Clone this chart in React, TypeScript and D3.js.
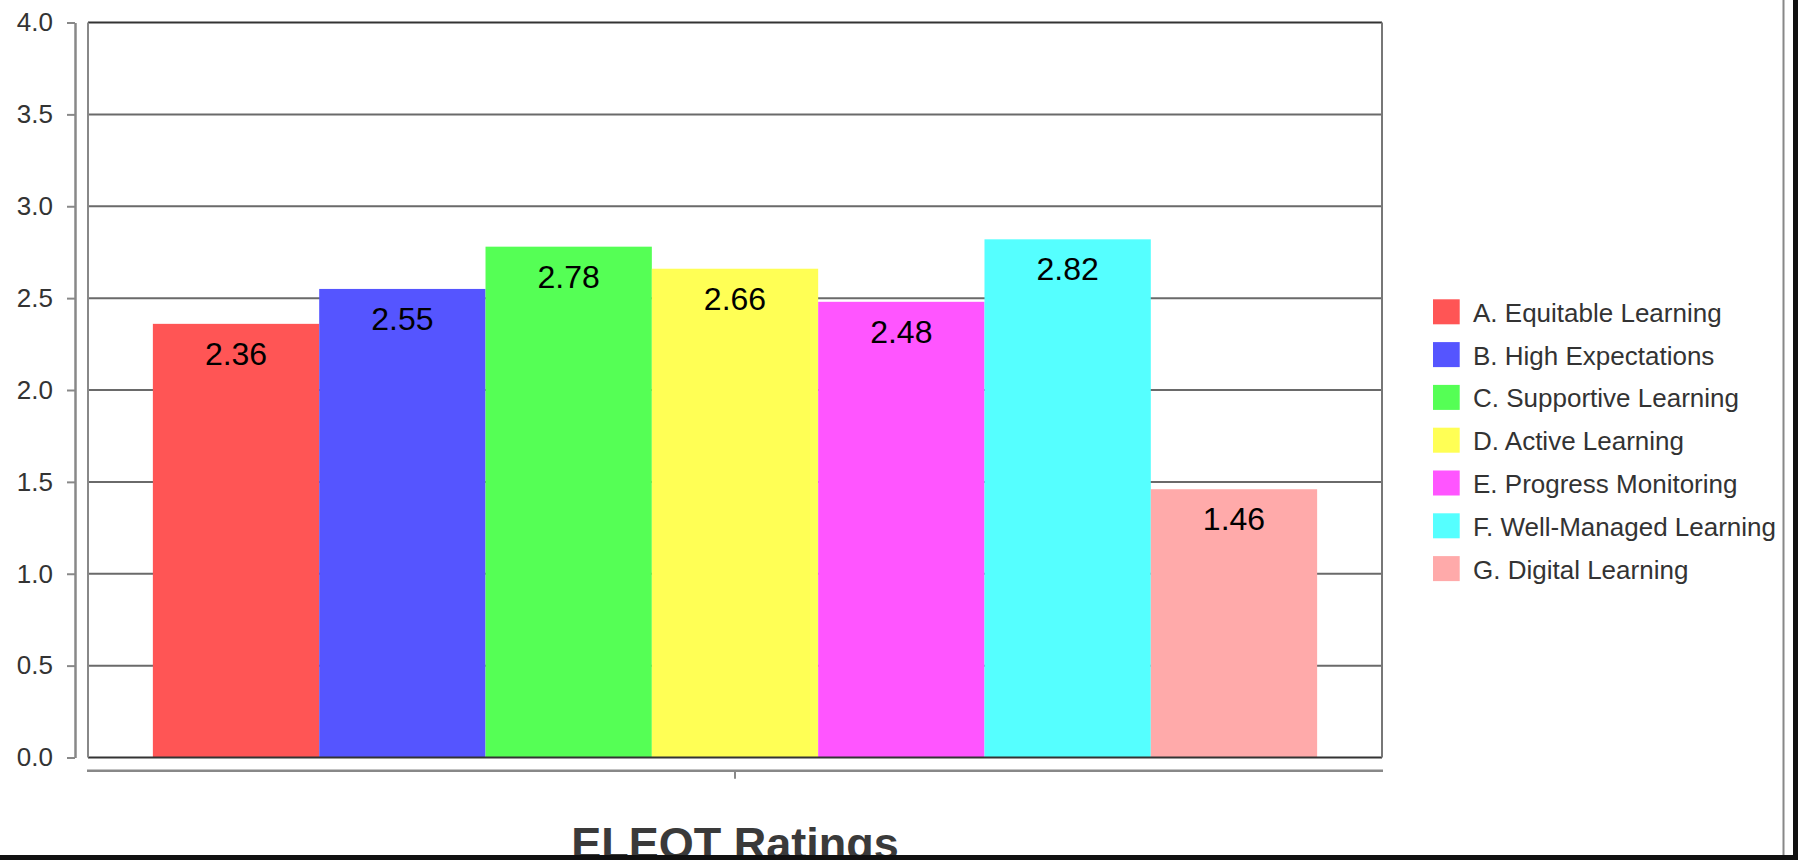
import React, { useEffect, useRef } from 'react';
import * as d3 from 'd3';

const WIDTH = 1798;
const HEIGHT = 860;

const PLOT = { left: 88, right: 1382, top: 22.5, bottom: 757.5 };

const categories = [
  'A. Equitable Learning',
  'B. High Expectations',
  'C. Supportive Learning',
  'D. Active Learning',
  'E. Progress Monitoring',
  'F. Well-Managed Learning',
  'G. Digital Learning',
];
const ratings = [2.36, 2.55, 2.78, 2.66, 2.48, 2.82, 1.46];
const colors = ['#ff5555', '#5555ff', '#55ff55', '#ffff55', '#ff55ff', '#55ffff', '#ffaaaa'];
const yTicks = [0, 0.5, 1, 1.5, 2, 2.5, 3, 3.5, 4];
const title = 'ELEOT Ratings';

const FONT = '"Liberation Sans", Arial, Helvetica, sans-serif';

export default function App() {
  const ref = useRef<SVGSVGElement>(null);

  useEffect(() => {
    const svg = d3.select(ref.current);
    svg.selectAll('*').remove();

    const x = d3.scaleBand<string>()
      .domain(categories)
      .range([PLOT.left, PLOT.right])
      .paddingInner(0)
      .paddingOuter(0.39);

    const y = d3.scaleLinear()
      .domain([0, 4])
      .range([PLOT.bottom, PLOT.top]);

    // grid lines
    svg.append('g')
      .selectAll('line')
      .data(yTicks.slice(1, -1))
      .enter()
      .append('line')
      .attr('x1', PLOT.left)
      .attr('x2', PLOT.right)
      .attr('y1', d => y(d))
      .attr('y2', d => y(d))
      .attr('stroke', '#6a6a6a')
      .attr('stroke-width', 2);

    // bars
    svg.append('g')
      .selectAll('rect')
      .data(ratings)
      .enter()
      .append('rect')
      .attr('x', (d, i) => x(categories[i]) as number)
      .attr('width', x.bandwidth())
      .attr('y', d => y(d))
      .attr('height', d => y(0) - y(d))
      .attr('fill', (d, i) => colors[i]);

    // value labels
    svg.append('g')
      .selectAll('text')
      .data(ratings)
      .enter()
      .append('text')
      .attr('x', (d, i) => (x(categories[i]) as number) + x.bandwidth() / 2)
      .attr('y', d => y(d) + 41)
      .attr('text-anchor', 'middle')
      .attr('font-family', FONT)
      .attr('font-size', 32)
      .attr('fill', '#000')
      .text(d => d.toFixed(2));

    // plot frame
    const frame = svg.append('g').attr('fill', 'none');
    frame.append('line')
      .attr('x1', PLOT.left).attr('x2', PLOT.right)
      .attr('y1', PLOT.top).attr('y2', PLOT.top)
      .attr('stroke', '#333').attr('stroke-width', 2);
    frame.append('line')
      .attr('x1', PLOT.left).attr('x2', PLOT.right)
      .attr('y1', PLOT.bottom).attr('y2', PLOT.bottom)
      .attr('stroke', '#333').attr('stroke-width', 2);
    frame.append('line')
      .attr('x1', PLOT.left).attr('x2', PLOT.left)
      .attr('y1', PLOT.top).attr('y2', PLOT.bottom)
      .attr('stroke', '#888').attr('stroke-width', 2);
    frame.append('line')
      .attr('x1', PLOT.right).attr('x2', PLOT.right)
      .attr('y1', PLOT.top).attr('y2', PLOT.bottom)
      .attr('stroke', '#777').attr('stroke-width', 2);

    // y axis
    const yAxis = svg.append('g')
      .attr('transform', 'translate(75, 0)')
      .call(d3.axisLeft(y)
        .tickValues(yTicks)
        .tickFormat(d3.format('.1f'))
        .tickSize(8)
        .tickSizeOuter(0)
        .tickPadding(14));
    yAxis.select('.domain').attr('stroke', '#888').attr('stroke-width', 2.5);
    yAxis.selectAll('.tick line').attr('stroke', '#888').attr('stroke-width', 2);
    yAxis.selectAll('.tick text')
      .attr('font-family', FONT)
      .attr('font-size', 26)
      .attr('fill', '#333');

    // x axis (single category tick)
    const xAxisY = 770.7;
    svg.append('line')
      .attr('x1', PLOT.left - 1).attr('x2', PLOT.right + 1)
      .attr('y1', xAxisY).attr('y2', xAxisY)
      .attr('stroke', '#888').attr('stroke-width', 2.5);
    svg.append('line')
      .attr('x1', (PLOT.left + PLOT.right) / 2).attr('x2', (PLOT.left + PLOT.right) / 2)
      .attr('y1', xAxisY).attr('y2', xAxisY + 8)
      .attr('stroke', '#888').attr('stroke-width', 2);

    svg.append('text')
      .attr('x', (PLOT.left + PLOT.right) / 2)
      .attr('y', 859)
      .attr('text-anchor', 'middle')
      .attr('font-family', FONT)
      .attr('font-weight', 'bold')
      .attr('font-size', 45)
      .attr('fill', '#3a3a3a')
      .text(title);

    // legend
    const legend = svg.append('g')
      .selectAll('g')
      .data(categories)
      .enter()
      .append('g')
      .attr('transform', (d, i) => `translate(1433, ${299.3 + i * 42.8})`);
    legend.append('rect')
      .attr('width', 26.7)
      .attr('height', 25)
      .attr('fill', (d, i) => colors[i]);
    legend.append('text')
      .attr('x', 40)
      .attr('y', 22.4)
      .attr('font-family', FONT)
      .attr('font-size', 26)
      .attr('fill', '#333')
      .text(d => d);

    // window edge
    svg.append('line')
      .attr('x1', 1783.5).attr('x2', 1783.5)
      .attr('y1', 0).attr('y2', 855)
      .attr('stroke', '#888').attr('stroke-width', 2);
    svg.append('rect')
      .attr('x', 1793).attr('y', 0)
      .attr('width', 5).attr('height', HEIGHT)
      .attr('fill', '#111');
    svg.append('rect')
      .attr('x', 0).attr('y', 855)
      .attr('width', WIDTH).attr('height', 5)
      .attr('fill', '#111');
  }, []);

  return (
    <svg
      ref={ref}
      width={WIDTH}
      height={HEIGHT}
      style={{ position: 'absolute', left: 0, top: 0, background: '#fff' }}
    />
  );
}
